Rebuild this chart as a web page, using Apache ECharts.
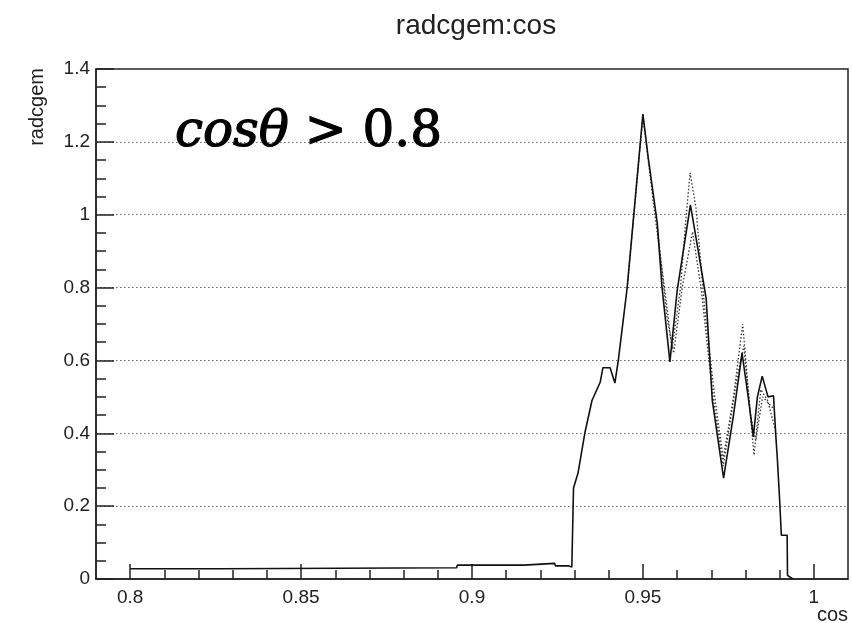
<!DOCTYPE html>
<html>
<head>
<meta charset="utf-8">
<title>radcgem:cos</title>
<script src="https://cdn.jsdelivr.net/npm/echarts@6/dist/echarts.min.js"></script>
<style>
  html, body { margin: 0; padding: 0; background: #fff; }
  #chart { width: 852px; height: 623px; }
</style>
</head>
<body>
<div id="chart"></div>
<script>
// main (solid) curve
const mainX = [0.800, 0.8268, 0.8270, 0.8955, 0.8957, 0.9151, 0.9153, 0.9242, 0.9244, 0.9283, 0.9285, 0.9292,
  0.9294, 0.9297, 0.931, 0.933, 0.9351, 0.9375, 0.9383, 0.9404, 0.9418, 0.9428, 0.9454, 0.950,
  0.9515, 0.9542, 0.9556, 0.9579, 0.960, 0.9639, 0.9662, 0.9685, 0.9703, 0.9736, 0.9765, 0.979,
  0.9808, 0.9823, 0.9835, 0.9849, 0.9866, 0.9882, 0.9889, 0.9893, 0.990, 0.9905, 0.9922, 0.9923, 0.9939];
const mainY = [0.028, 0.028, 0.031, 0.031, 0.038, 0.038, 0.043, 0.043, 0.036, 0.036, 0.033, 0.033,
  0.12, 0.25, 0.29, 0.40, 0.49, 0.54, 0.58, 0.58, 0.538, 0.60, 0.80, 1.276,
  1.16, 0.977, 0.80, 0.596, 0.79, 1.027, 0.90, 0.77, 0.49, 0.277, 0.45, 0.62,
  0.50, 0.39, 0.50, 0.557, 0.50, 0.503, 0.39, 0.335, 0.217, 0.12, 0.12, 0.01, 0.0];

// dotted variants around the peaks
const dotAX = [0.9454, 0.950, 0.9535, 0.957, 0.9585, 0.961, 0.9625, 0.9638, 0.9655, 0.968, 0.971, 0.9735,
  0.9765, 0.9792, 0.981, 0.9825, 0.9845, 0.9865, 0.989];
const dotAY = [0.80, 1.27, 1.0, 0.75, 0.63, 0.80, 0.98, 1.115, 1.02, 0.75, 0.50, 0.33,
  0.50, 0.70, 0.50, 0.34, 0.52, 0.49, 0.40];
const dotBX = [0.9542, 0.957, 0.959, 0.9615, 0.9645, 0.967, 0.9705, 0.9735, 0.9775, 0.9795, 0.9815, 0.983,
  0.985, 0.988];
const dotBY = [0.97, 0.72, 0.62, 0.80, 0.953, 0.80, 0.50, 0.31, 0.55, 0.64, 0.45, 0.38,
  0.50, 0.47];

const xMajor = [0.8, 0.85, 0.9, 0.95, 1];
const xMinor = [0.81, 0.82, 0.83, 0.84, 0.86, 0.87, 0.88, 0.89, 0.91, 0.92, 0.93, 0.94,
  0.96, 0.97, 0.98, 0.99];

const pairs = (xs, ys) => xs.map((x, i) => [x, ys[i]]);

const chart = echarts.init(document.getElementById('chart'));
const txt = '#222';

const option = {
  animation: false,
  backgroundColor: '#fff',
  grid: {
    left: 96, right: 4, top: 69, bottom: 44,
    show: true, borderColor: '#222', borderWidth: 1.5
  },
  graphic: [
    { type: 'text', x: 476, y: 26,
      style: { text: 'radcgem:cos', fill: txt, font: '28px "Liberation Sans", Arial', align: 'center', verticalAlign: 'middle' } },
    { type: 'text', x: 37, y: 68, rotation: Math.PI / 2,
      style: { text: 'radcgem', fill: txt, font: '20px "Liberation Sans", Arial', align: 'right', verticalAlign: 'middle' } },
    { type: 'text', x: 848, y: 615,
      style: { text: 'cos', fill: txt, font: '20px "Liberation Sans", Arial', align: 'right', verticalAlign: 'middle' } },
    { type: 'text', x: 175, y: 133, z: 10,
      style: {
        text: '{a|cosθ}{b| > 0.8}', verticalAlign: 'middle', align: 'left',
        rich: {
          a: { fontFamily: 'DejaVu Serif', fontStyle: 'italic', fontSize: 50, fill: '#000',
               stroke: '#000', lineWidth: 1.2 },
          b: { fontFamily: 'DejaVu Serif', fontSize: 50, fill: '#000',
               stroke: '#000', lineWidth: 1.2 }
        }
      } }
  ],
  xAxis: [
    {
      type: 'value', min: 0.79, max: 1.01,
      axisLine: { show: true, lineStyle: { color: '#222', width: 1.5 } },
      axisTick: { show: true, inside: true, length: 15, customValues: xMajor, lineStyle: { color: '#222', width: 1.5 } },
      axisLabel: { customValues: xMajor, color: txt, fontSize: 19, fontFamily: 'Liberation Sans', margin: 9 },
      splitLine: { show: false }
    },
    {
      type: 'value', min: 0.79, max: 1.01, position: 'bottom',
      axisLine: { show: false },
      axisTick: { show: true, inside: true, length: 9, customValues: xMinor, lineStyle: { color: '#222', width: 1.5 } },
      axisLabel: { show: false },
      splitLine: { show: false }
    }
  ],
  yAxis: {
    type: 'value', min: 0, max: 1.4, interval: 0.2,
    axisLine: { show: true, lineStyle: { color: '#222', width: 1.5 } },
    axisTick: { show: true, inside: true, length: 18, lineStyle: { color: '#222', width: 1.5 } },
    minorTick: { show: true, splitNumber: 4, length: 10, lineStyle: { color: '#222', width: 1.5 } },
    axisLabel: { color: txt, fontSize: 19, fontFamily: 'Liberation Sans', margin: 6 },
    splitLine: { show: true, lineStyle: { color: '#666', type: [1.5, 2.5], width: 1 } }
  },
  series: [
    { type: 'line', name: 'dotA', xAxisIndex: 0, data: pairs(dotAX, dotAY), showSymbol: false, symbol: 'none',
      lineStyle: { color: '#333', width: 1.3, type: [1.5, 2] } },
    { type: 'line', name: 'dotB', xAxisIndex: 0, data: pairs(dotBX, dotBY), showSymbol: false, symbol: 'none',
      lineStyle: { color: '#333', width: 1.3, type: [1.5, 2] } },
    { type: 'line', name: 'main', xAxisIndex: 0, data: pairs(mainX, mainY), showSymbol: false, symbol: 'none',
      lineStyle: { color: '#111', width: 1.6 } }
  ]
};

chart.setOption(option);
</script>
</body>
</html>
